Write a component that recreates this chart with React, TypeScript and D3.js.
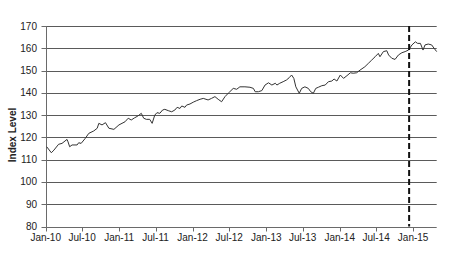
import React from "react";
import * as d3 from "d3";

const dates: string[] = [
  "2010-01-06","2010-01-29","2010-02-11","2010-03-06","2010-03-23","2010-04-17","2010-04-22","2010-04-30",
  "2010-05-12","2010-06-06","2010-06-14","2010-06-26","2010-07-17","2010-08-03","2010-08-28","2010-09-14",
  "2010-09-22","2010-10-08","2010-10-25","2010-11-11","2010-12-06","2010-12-31","2011-01-30","2011-02-15",
  "2011-03-02","2011-03-19","2011-04-04","2011-04-21","2011-05-03","2011-05-16","2011-06-02","2011-06-14",
  "2011-06-27","2011-07-08","2011-07-22","2011-08-05","2011-08-16","2011-09-02","2011-09-19","2011-10-05",
  "2011-10-16","2011-10-30","2011-11-08","2011-11-24","2011-12-02","2011-12-19","2012-01-04","2012-01-21",
  "2012-02-07","2012-02-23","2012-03-18","2012-04-04","2012-04-21","2012-05-07","2012-05-24","2012-06-10",
  "2012-06-26","2012-07-04","2012-07-21","2012-08-07","2012-08-23","2012-09-17","2012-10-12","2012-10-29",
  "2012-11-07","2012-11-23","2012-12-10","2012-12-26","2013-01-12","2013-01-29","2013-02-15","2013-02-23",
  "2013-03-09","2013-03-26","2013-04-12","2013-04-25","2013-05-07","2013-05-18","2013-05-28","2013-06-14",
  "2013-06-26","2013-07-12","2013-07-29","2013-08-10","2013-08-23","2013-09-04","2013-09-17","2013-10-04",
  "2013-10-21","2013-11-06","2013-11-23","2013-12-04","2013-12-18","2014-01-04","2014-01-20","2014-02-06",
  "2014-02-23","2014-03-09","2014-03-26","2014-04-12","2014-05-06","2014-05-23","2014-06-09","2014-06-26",
  "2014-07-12","2014-07-20","2014-08-06","2014-08-23","2014-09-01","2014-09-17","2014-10-03","2014-10-20",
  "2014-11-06","2014-11-22","2014-12-09","2014-12-26","2015-01-12","2015-01-23","2015-02-06","2015-02-19",
  "2015-03-01","2015-03-17","2015-04-03","2015-04-15","2015-04-28"
];

const indexLevel: number[] = [
  115.8,113.1,114.3,116.9,117.3,119.1,118.0,115.8,
  116.6,116.6,117.6,117.3,119.6,121.8,122.9,124.1,
  126.3,125.6,126.6,124.1,123.6,125.6,127.0,128.6,
  127.8,128.8,129.6,130.8,128.6,128.1,128.1,126.3,
  130.0,131.1,130.8,132.3,132.6,132.0,131.5,132.3,
  133.5,133.0,134.1,133.5,134.5,135.0,135.8,136.5,
  137.1,137.5,136.8,137.5,138.3,137.1,136.0,138.3,
  139.8,140.5,142.0,141.6,142.7,142.7,142.5,142.0,
  140.5,140.5,141.0,143.5,144.5,143.5,144.3,143.5,
  144.3,145.0,145.8,146.8,148.0,146.5,142.7,139.8,
  142.0,142.7,142.0,140.5,139.8,142.0,142.5,143.2,
  143.5,145.0,145.3,146.2,145.3,148.0,146.5,147.7,
  149.0,148.8,149.0,150.2,151.7,153.2,154.7,156.2,
  157.7,156.2,158.5,158.9,157.0,155.5,155.0,157.0,
  158.0,158.5,159.2,161.5,162.9,162.2,162.2,159.2,
  161.5,161.9,161.5,160.0,158.5
];

const yTicks: number[] = [80, 90, 100, 110, 120, 130, 140, 150, 160, 170];
const markerDate = "2014-12-12";
const yLabel = "Index Level";

const W = 451;
const H = 261;
const left = 45.7;
const right = 436.7;
const top = 26;
const bottom = 226.5;

export default function App() {
  const parse = d3.timeParse("%Y-%m-%d");
  const data = dates.map((d, i) => ({ date: parse(d) as Date, value: indexLevel[i] }));

  const x = d3
    .scaleTime()
    .domain([new Date(2010, 0, 1), new Date(2015, 3, 28)])
    .range([left, right]);
  const y = d3.scaleLinear().domain([80, 170]).range([bottom, top]);

  const xTicks = d3.timeMonth.range(new Date(2010, 0, 1), new Date(2015, 1, 1), 6);
  const fmt = d3.timeFormat("%b-%y");

  const line = d3
    .line<{ date: Date; value: number }>()
    .x((d) => x(d.date))
    .y((d) => y(d.value));

  const font = "'Liberation Sans', Arial, sans-serif";
  const mx = x(parse(markerDate) as Date);
  const axisY = Math.round(y(80)) + 0.5;
  const axisX = Math.round(left) + 0.5;

  return (
    <svg
      width={W}
      height={H}
      style={{ position: "absolute", left: 0, top: 0, background: "#fff" }}
      fontFamily={font}
    >
      {yTicks.slice(1).map((t) => (
        <line
          key={"g" + t}
          x1={axisX}
          x2={right}
          y1={Math.round(y(t)) + 0.5}
          y2={Math.round(y(t)) + 0.5}
          stroke="#5a5a5a"
          strokeWidth={1}
        />
      ))}
      {yTicks.map((t) => (
        <g key={"yt" + t}>
          <line
            x1={axisX - 5}
            x2={axisX}
            y1={Math.round(y(t)) + 0.5}
            y2={Math.round(y(t)) + 0.5}
            stroke="#6a6a6a"
          />
          <text
            x={37}
            y={y(t)}
            dy="0.35em"
            textAnchor="end"
            fontSize={10}
            fill="#222"
          >
            {t}
          </text>
        </g>
      ))}
      <line x1={axisX} x2={axisX} y1={top} y2={axisY} stroke="#6a6a6a" />
      <line x1={axisX} x2={right} y1={axisY} y2={axisY} stroke="#6a6a6a" />
      {xTicks.map((d, i) => (
        <g key={"xt" + i}>
          <line
            x1={Math.round(x(d)) + 0.5}
            x2={Math.round(x(d)) + 0.5}
            y1={axisY}
            y2={axisY + 4}
            stroke="#6a6a6a"
          />
          <text
            x={x(d)}
            y={240.5}
            textAnchor="middle"
            fontSize={10}
            fill="#222"
          >
            {fmt(d)}
          </text>
        </g>
      ))}
      <path d={line(data) || ""} fill="none" stroke="#333" strokeWidth={1} />
      <line
        x1={mx}
        x2={mx}
        y1={top}
        y2={bottom}
        stroke="#111"
        strokeWidth={2}
        strokeDasharray="6,3"
      />
      <text
        transform={`translate(15.5, 135) rotate(-90)`}
        textAnchor="middle"
        fontSize={10}
        fontWeight="bold"
        fill="#222"
      >
        {yLabel}
      </text>
    </svg>
  );
}
